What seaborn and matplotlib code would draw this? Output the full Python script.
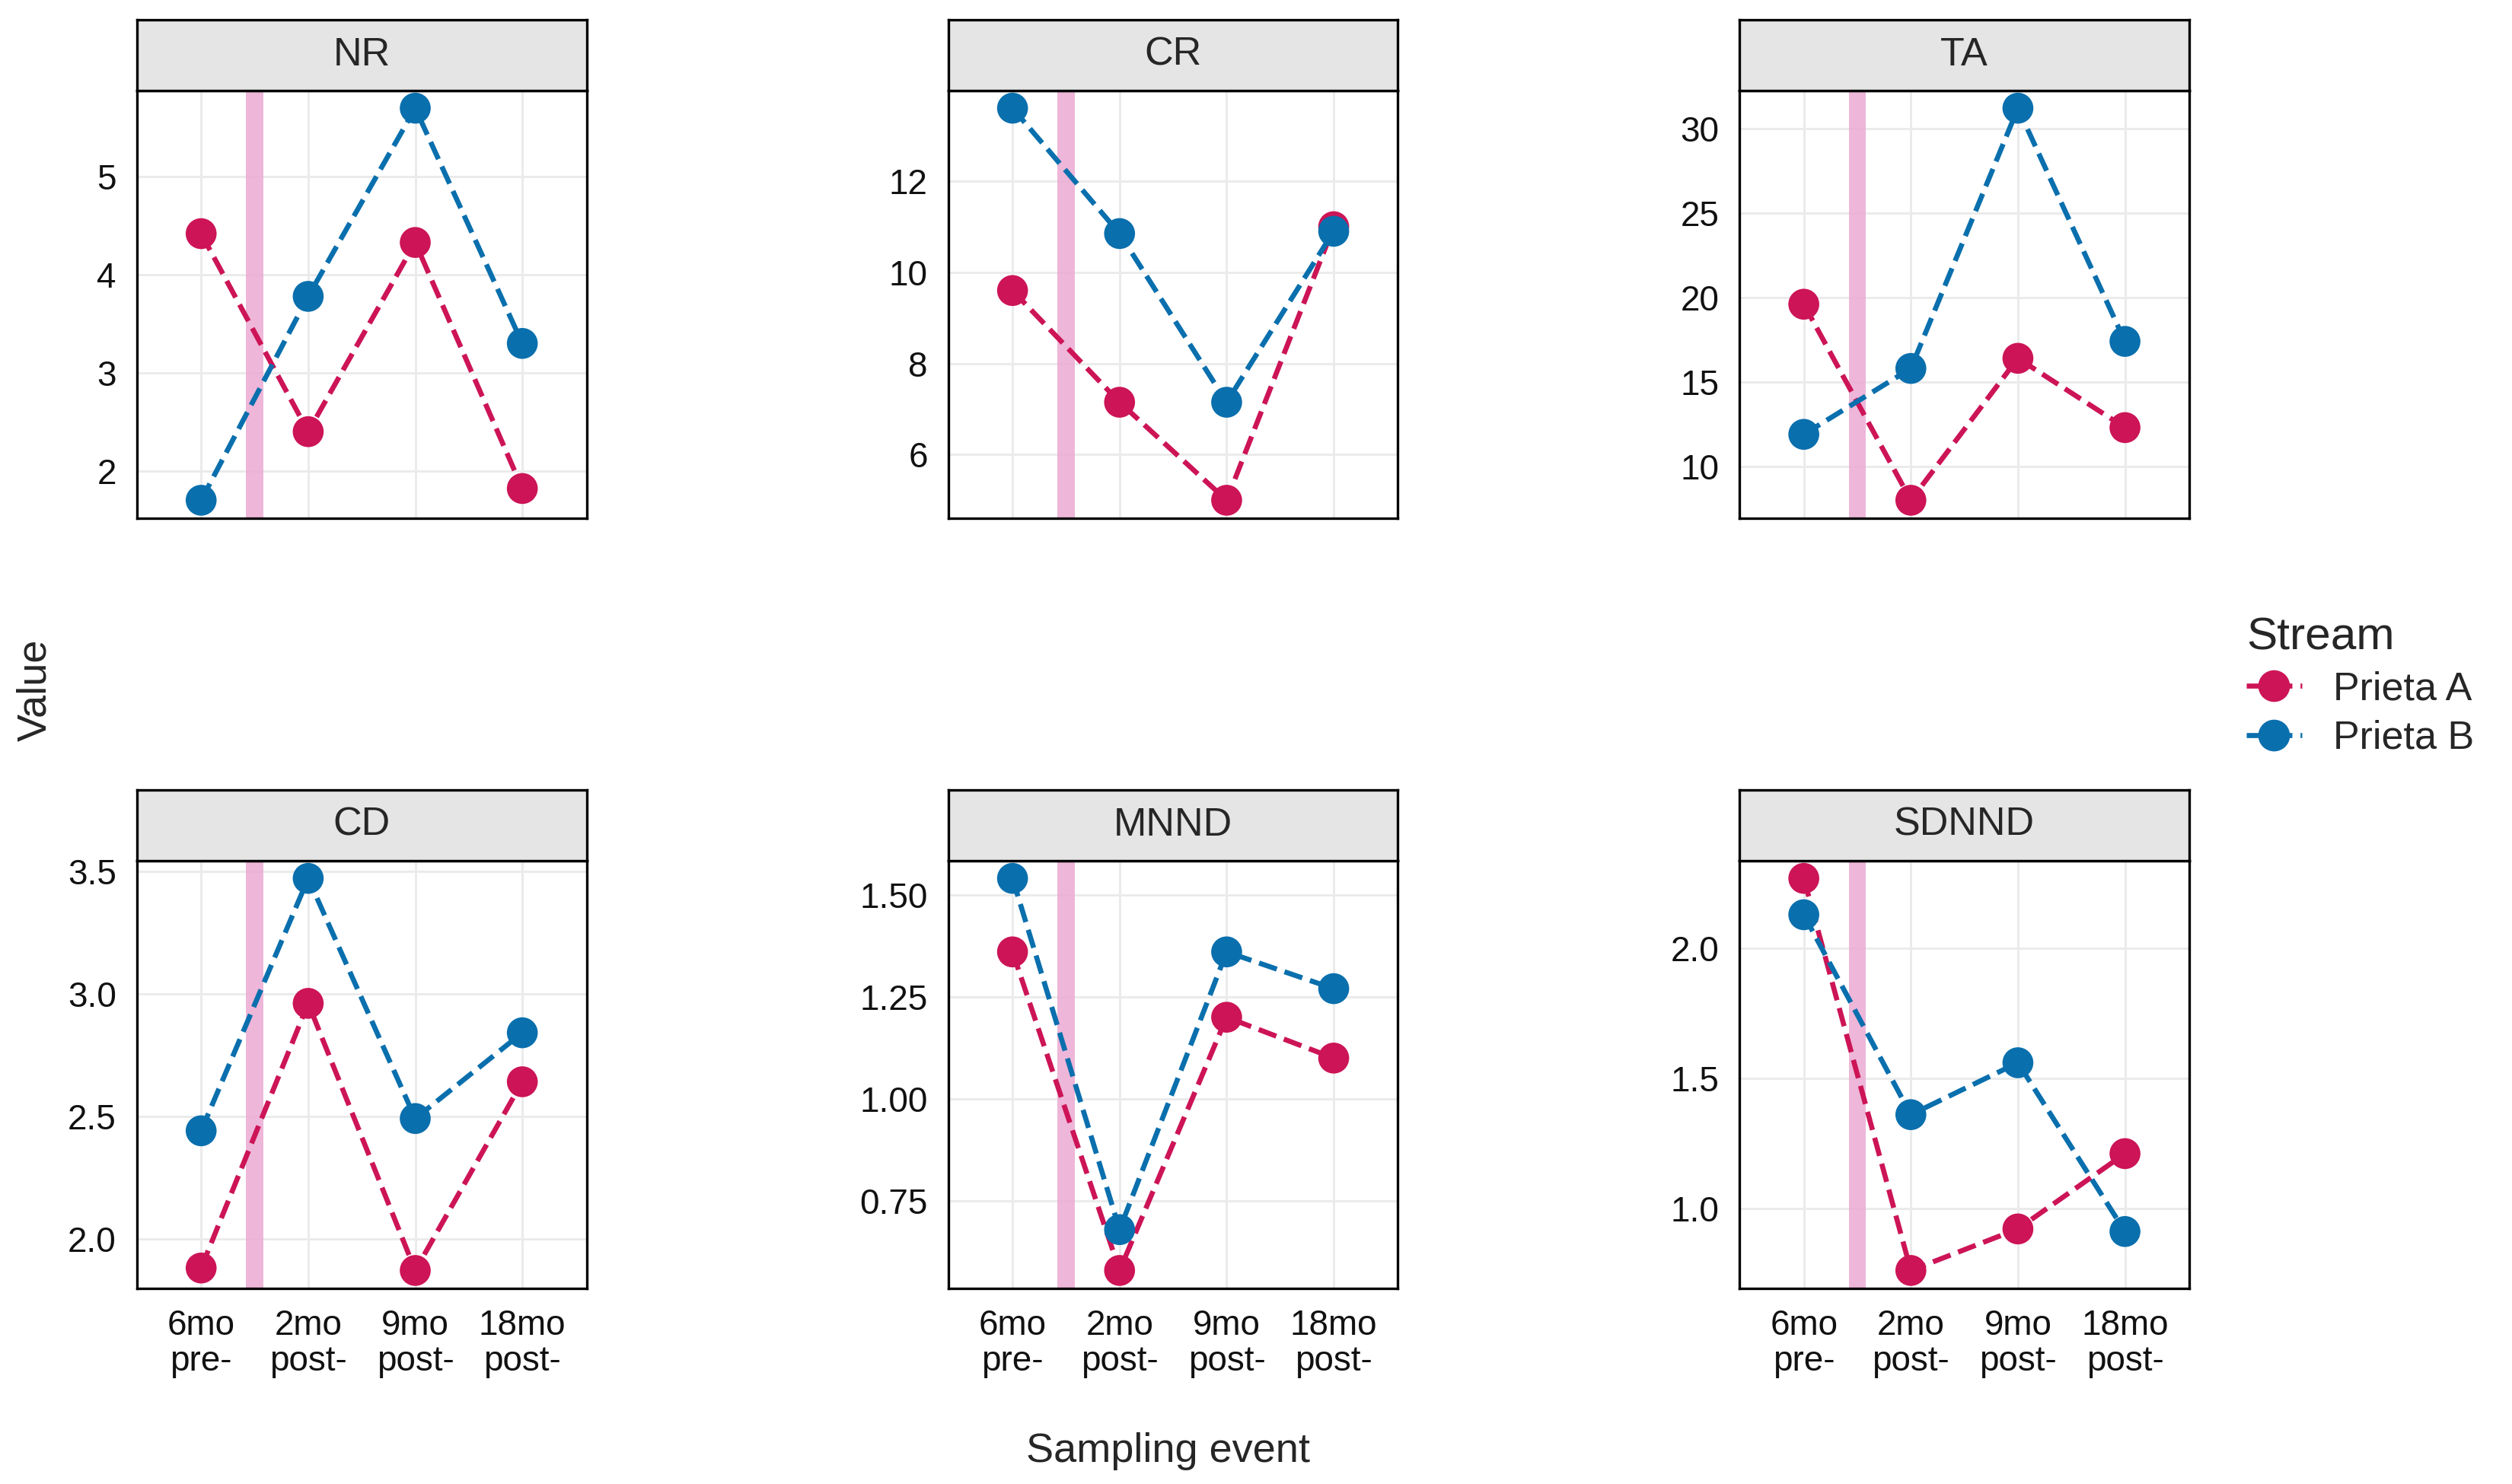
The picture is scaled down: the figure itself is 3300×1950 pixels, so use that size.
import numpy as np
import pandas as pd
import matplotlib
matplotlib.use('Agg')
from matplotlib import pyplot as plt
from matplotlib.lines import Line2D
import seaborn as sns

sns.set_style('white')
plt.rcParams['font.family'] = ['Arial', 'Liberation Sans', 'DejaVu Sans']

events = ['6mo\npre-', '2mo\npost-', '9mo\npost-', '18mo\npost-']
metrics = ['NR', 'CR', 'TA', 'CD', 'MNND', 'SDNND']
prieta_a = {'NR': [4.42, 2.40, 4.33, 1.82], 'CR': [9.6, 7.15, 5.0, 11.0],
            'TA': [19.6, 8.0, 16.4, 12.3], 'CD': [1.88, 2.96, 1.87, 2.64],
            'MNND': [1.36, 0.58, 1.20, 1.10], 'SDNND': [2.27, 0.76, 0.92, 1.21]}
prieta_b = {'NR': [1.70, 3.78, 5.70, 3.30], 'CR': [13.6, 10.85, 7.15, 10.9],
            'TA': [11.9, 15.8, 31.2, 17.4], 'CD': [2.44, 3.47, 2.49, 2.84],
            'MNND': [1.54, 0.68, 1.36, 1.27], 'SDNND': [2.13, 1.36, 1.56, 0.91]}
ticks = {'NR': [2, 3, 4, 5], 'CR': [6, 8, 10, 12], 'TA': [10, 15, 20, 25, 30],
         'CD': [2.0, 2.5, 3.0, 3.5], 'MNND': [0.75, 1.00, 1.25, 1.50],
         'SDNND': [1.0, 1.5, 2.0]}
ticklab = {'CD': ['2.0', '2.5', '3.0', '3.5'], 'MNND': ['0.75', '1.00', '1.25', '1.50'],
           'SDNND': ['1.0', '1.5', '2.0']}
colors = {'Prieta A': '#CC1456', 'Prieta B': '#0A6FAD'}

rows = []
for m in metrics:
    for i, e in enumerate(events):
        rows.append([m, i, 'Prieta A', prieta_a[m][i]])
        rows.append([m, i, 'Prieta B', prieta_b[m][i]])
df = pd.DataFrame(rows, columns=['metric', 'event', 'Stream', 'value'])

fig = plt.figure(figsize=(11, 6.5), dpi=300)
lefts = [0.0545, 0.3775, 0.6925]
bottoms = [0.651, 0.132]
w, h, sh = 0.179, 0.288, 0.0477
for k, m in enumerate(metrics):
    r, c = divmod(k, 3)
    ax = fig.add_axes([lefts[c], bottoms[r], w, h])
    sub = df[df.metric == m]
    ax.axvspan(0.42, 0.58, color='#EBA9D3', alpha=0.85, lw=0, zorder=1)
    sns.lineplot(data=sub, x='event', y='value', hue='Stream', palette=colors,
                 linestyle='--', lw=1.6, ax=ax, legend=False, zorder=2)
    sns.scatterplot(data=sub, x='event', y='value', hue='Stream', palette=colors,
                    s=95, edgecolor='none', ax=ax, legend=False, zorder=3)
    vals = np.array(prieta_a[m] + prieta_b[m])
    pad = (vals.max() - vals.min()) * 0.045
    ax.set_ylim(vals.min() - pad, vals.max() + pad)
    ax.set_xlim(-0.6, 3.6)
    ax.set_xticks(range(4))
    ax.set_xticklabels(events if r == 1 else [], fontsize=11, linespacing=1.1)
    ax.set_yticks(ticks[m])
    ax.set_yticklabels(ticklab.get(m, [str(t) for t in ticks[m]]), fontsize=11)
    ax.set_xlabel('')
    ax.set_ylabel('')
    ax.grid(True, color='#EBEBEB', lw=0.7)
    ax.set_axisbelow(True)
    ax.tick_params(length=3, color='#333333', labelcolor='#111111')
    for s in ax.spines.values():
        s.set_color('black')
        s.set_linewidth(0.8)
    strip = fig.add_axes([lefts[c], bottoms[r] + h, w, sh])
    strip.set_facecolor('#E5E5E5')
    strip.set_xticks([])
    strip.set_yticks([])
    for s in strip.spines.values():
        s.set_color('black')
        s.set_linewidth(0.8)
    strip.text(0.5, 0.5, m, ha='center', va='center', fontsize=12.5, transform=strip.transAxes)

fig.text(0.014, 0.535, 'Value', rotation=90, ha='center', va='center', fontsize=13)
fig.text(0.465, 0.022, 'Sampling event', ha='center', va='center', fontsize=13)
handles = [Line2D([0], [0], color=colors[s], ls='--', lw=1.6, marker='o', ms=9)
           for s in colors]
fig.legend(handles, list(colors), title='Stream', loc='center left',
           bbox_to_anchor=(0.88, 0.537), frameon=False, fontsize=12.5,
           title_fontsize=14.5, handlelength=1.4, alignment='left',
           labelspacing=0.3)
plt.savefig('out.png', dpi=300)
